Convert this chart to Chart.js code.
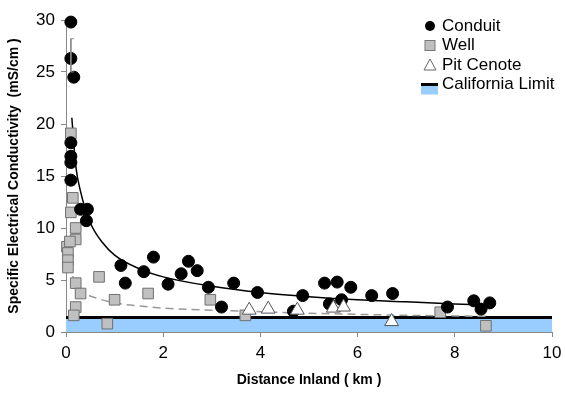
<!DOCTYPE html>
<html>
<head>
<meta charset="utf-8">
<script src="https://cdn.jsdelivr.net/npm/chart.js@4/dist/chart.umd.min.js"></script>
<style>
  html, body { margin: 0; padding: 0; background: #fff; }
  #wrap { width: 565px; height: 397px; }
</style>
</head>
<body>
<div id="wrap"><canvas id="chart" width="565" height="397"></canvas></div>
<script>
// values
const conduitX = [0.10, 0.10, 0.16, 0.10, 0.10, 0.10, 0.10, 0.30, 0.44, 0.42, 1.13, 1.22, 1.60, 1.80, 2.10, 2.37, 2.52, 2.70, 2.93, 3.20, 3.45, 3.94, 4.87, 4.68, 5.32, 5.58, 5.86, 5.42, 5.67, 6.29, 6.72, 7.85, 8.39, 8.54, 8.72];
const conduitY = [29.8, 26.3, 24.5, 18.2, 16.9, 16.3, 14.6, 11.8, 11.8, 10.7, 6.4, 4.7, 5.8, 7.2, 4.6, 5.6, 6.8, 5.9, 4.3, 2.4, 4.7, 3.8, 3.5, 2.0, 4.7, 4.8, 4.3, 2.7, 3.1, 3.5, 3.7, 2.4, 3.0, 2.2, 2.8];

const wellX = [0.10, 0.14, 0.10, 0.20, 0.20, 0.02, 0.08, 0.04, 0.04, 0.04, 0.20, 0.30, 0.68, 1.00, 1.69, 0.20, 0.16, 0.85, 2.97, 3.69, 7.70, 8.64];
const wellY = [19.1, 12.9, 11.5, 10.0, 8.9, 8.2, 8.7, 7.6, 6.9, 6.2, 4.7, 3.7, 5.3, 3.1, 3.7, 2.4, 1.6, 0.8, 3.1, 1.6, 1.9, 0.6];

const pitX = [3.77, 4.16, 4.76, 5.50, 5.71, 6.70];
const pitY = [2.1, 2.2, 2.1, 2.3, 2.4, 1.0];

// fitted curves as drawn in the figure
const conduitFitX = [0.12, 0.2, 0.3, 0.5, 0.75, 1, 1.5, 2, 3, 4, 5, 6, 7, 8, 8.7];
const conduitFitY = [20.6, 16.0, 13.5, 10.5, 8.6, 7.4, 6.1, 5.3, 4.4, 3.8, 3.4, 3.1, 2.9, 2.7, 2.6];
const wellFitX = [0.08, 0.15, 0.25, 0.4, 0.6, 1, 1.5, 2, 3, 4, 5, 6, 7, 8, 8.7];
const wellFitY = [6.6, 5.2, 4.4, 3.7, 3.3, 2.8, 2.5, 2.3, 2.1, 1.95, 1.8, 1.7, 1.6, 1.55, 1.5];

// error bar on the second conduit point
const errX = [0.10, 0.10];
const errY = [28.2, 25.0];

const limitX = [0, 10];
const limitY = [1.4, 1.4];

const xTicks = [0, 2, 4, 6, 8, 10];
const yTicks = [0, 5, 10, 15, 20, 25, 30];
const legendLabels = ['Conduit', 'Well', 'Pit Cenote', 'California Limit'];

const pts = (xs, ys) => xs.map((x, i) => ({ x: x, y: ys[i] }));
const FONT = 'Arial, "Liberation Sans", sans-serif';

// legend drawn inside the plot, top right
const legendPlugin = {
    id: 'insideLegend',
    afterDraw(chart) {
        const ctx = chart.ctx;
        const sx = 430, tx = 442, y0 = 26, gap = 19.5;
        ctx.save();
        ctx.font = '17px ' + FONT;
        ctx.fillStyle = '#000';
        ctx.textBaseline = 'middle';
        legendLabels.forEach((label, i) => {
            const y = y0 + i * gap;
            if (i === 0) {
                ctx.beginPath();
                ctx.arc(sx, y, 5, 0, Math.PI * 2);
                ctx.fillStyle = '#000';
                ctx.fill();
            } else if (i === 1) {
                ctx.fillStyle = '#c0c0c0';
                ctx.fillRect(sx - 5, y - 5, 10, 10);
                ctx.strokeStyle = '#777';
                ctx.lineWidth = 1;
                ctx.strokeRect(sx - 5, y - 5, 10, 10);
            } else if (i === 2) {
                ctx.beginPath();
                ctx.moveTo(sx, y - 6);
                ctx.lineTo(sx + 6, y + 5);
                ctx.lineTo(sx - 6, y + 5);
                ctx.closePath();
                ctx.fillStyle = '#fff';
                ctx.fill();
                ctx.strokeStyle = '#666';
                ctx.lineWidth = 1;
                ctx.stroke();
            } else {
                ctx.fillStyle = '#99ccff';
                ctx.fillRect(sx - 9, y, 17, 10);
                ctx.strokeStyle = '#000';
                ctx.lineWidth = 3;
                ctx.beginPath();
                ctx.moveTo(sx - 9, y);
                ctx.lineTo(sx + 8, y);
                ctx.stroke();
            }
            ctx.fillStyle = '#000';
            ctx.fillText(label, tx, y);
        });
        ctx.restore();
    }
};

new Chart(document.getElementById('chart'), {
    type: 'scatter',
    data: {
        datasets: [
            {
                label: 'Pit Cenote',
                data: pts(pitX, pitY),
                pointStyle: 'triangle',
                pointRadius: 8,
                backgroundColor: '#fff',
                borderColor: '#555',
                borderWidth: 1,
                clip: false,
                order: 1
            },
            {
                label: 'error',
                type: 'line',
                data: pts(errX, errY),
                borderColor: '#888',
                borderWidth: 1,
                pointStyle: 'dash',
                pointRadius: 3,
                pointBorderColor: '#888',
                fill: false,
                clip: false,
                order: 2
            },
            {
                label: 'Conduit',
                data: pts(conduitX, conduitY),
                pointStyle: 'circle',
                pointRadius: 6,
                backgroundColor: '#000',
                borderColor: '#000',
                clip: false,
                order: 3
            },
            {
                label: 'Well',
                data: pts(wellX, wellY),
                pointStyle: 'rect',
                pointRadius: 7.5,
                backgroundColor: '#c0c0c0',
                borderColor: '#707070',
                borderWidth: 1,
                clip: false,
                order: 4
            },
            {
                label: 'Conduit fit',
                type: 'line',
                data: pts(conduitFitX, conduitFitY),
                borderColor: '#000',
                borderWidth: 1.5,
                pointRadius: 0,
                cubicInterpolationMode: 'monotone',
                fill: false,
                order: 5
            },
            {
                label: 'Well fit',
                type: 'line',
                data: pts(wellFitX, wellFitY),
                borderColor: '#999',
                borderWidth: 1.5,
                borderDash: [8, 5],
                pointRadius: 0,
                cubicInterpolationMode: 'monotone',
                fill: false,
                order: 6
            },
            {
                label: 'California Limit',
                type: 'line',
                data: pts(limitX, limitY),
                borderColor: '#000',
                borderWidth: 3,
                backgroundColor: '#99ccff',
                pointRadius: 0,
                fill: 'origin',
                order: 7
            }
        ]
    },
    options: {
        responsive: false,
        animation: false,
        events: [],
        layout: { padding: { top: 20, right: 13, left: 0, bottom: 0 } },
        plugins: {
            legend: { display: false },
            tooltip: { enabled: false }
        },
        scales: {
            x: {
                type: 'linear',
                min: 0,
                max: 10,
                afterBuildTicks: s => { s.ticks = xTicks.map(v => ({ value: v })); },
                afterFit: s => { s.height = 65; s.paddingLeft = 0; s.paddingRight = 0; },
                grid: { drawOnChartArea: false, drawTicks: true, tickLength: 5, color: '#888' },
                border: { color: '#888', width: 1 },
                ticks: { color: '#000', font: { family: FONT, size: 17 }, padding: 6, maxRotation: 0 },
                title: {
                    display: true,
                    text: 'Distance Inland ( km )',
                    color: '#000',
                    font: { family: FONT, size: 14, weight: 'bold' },
                    padding: { top: 8, bottom: 8 }
                }
            },
            y: {
                type: 'linear',
                min: 0,
                max: 30,
                afterBuildTicks: s => { s.ticks = yTicks.map(v => ({ value: v })); },
                afterFit: s => { s.width = 66; s.paddingTop = 0; s.paddingBottom = 0; },
                grid: { drawOnChartArea: false, drawTicks: true, tickLength: 5, color: '#888' },
                border: { color: '#888', width: 1 },
                ticks: { color: '#000', font: { family: FONT, size: 17 }, padding: 6 },
                title: {
                    display: true,
                    text: 'Specific Electrical Conductivity  (mS/cm )',
                    color: '#000',
                    font: { family: FONT, size: 14, weight: 'bold' },
                    padding: { top: 6, bottom: 6 }
                }
            }
        }
    },
    plugins: [legendPlugin]
});
</script>
</body>
</html>
